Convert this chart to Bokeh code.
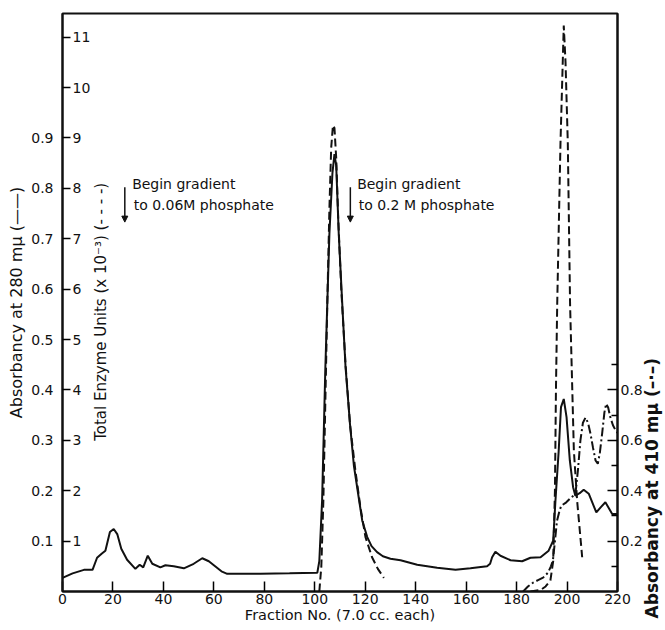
import math
from bokeh.plotting import figure
from bokeh.models import Range1d, LinearAxis, FixedTicker, Label, Arrow, NormalHead
from bokeh.core.properties import value
from bokeh.embed import file_html
from bokeh.resources import INLINE

NaN = float("nan")

# ---- data ----
fraction_280 = [0, 4, 8.5, 11.9, 13.7, 15.5, 17.0, 18.8, 20.3, 21.7, 23.3, 25.6, 28.9,
                30.6, 32.0, 33.8, 35.6, 38.8, 40.8, 44.1, 48.1, 52.0, 55.4, 58.0, 60.0,
                63.0, 65.3, 78.5, 90.0, 101.0, 101.8, 102.9, 104.2, 105.8, 107.0, 107.8,
                108.5, 109.5, 111.0, 112.2, 114.0, 115.5, 117.4, 118.8, 120.8, 122.5,
                124.7, 127.0, 130.0, 134.0, 140.6, 148.5, 155.8, 161.7, 168.3, 169.5,
                170.3, 171.6, 173.6, 177.6, 182.2, 185.5, 189.5, 192.7, 194.5, 195.4,
                196.7, 197.6, 198.7, 199.8, 201.1, 202.4, 203.3, 205.0, 206.6, 208.6,
                211.6, 213.5, 215.2, 217.9, 220.0]
absorb_280 = [0.027, 0.036, 0.043, 0.043, 0.067, 0.075, 0.081, 0.118, 0.124, 0.114, 0.085,
              0.063, 0.045, 0.053, 0.048, 0.071, 0.055, 0.048, 0.052, 0.050, 0.046, 0.055,
              0.066, 0.060, 0.052, 0.040, 0.035, 0.035, 0.036, 0.037, 0.060, 0.180, 0.445,
              0.710, 0.830, 0.868, 0.845, 0.710, 0.560, 0.445, 0.330, 0.250, 0.187, 0.141,
              0.108, 0.090, 0.078, 0.070, 0.065, 0.062, 0.053, 0.047, 0.043, 0.046, 0.050,
              0.055, 0.068, 0.079, 0.071, 0.062, 0.060, 0.067, 0.068, 0.081, 0.101, 0.180,
              0.280, 0.366, 0.382, 0.346, 0.260, 0.207, 0.190, 0.195, 0.202, 0.194, 0.157,
              0.168, 0.177, 0.154, 0.154]

fraction_enz = [101.8, 102.6, 103.4, 104.2, 105.0, 105.8, 106.5, 107.2, 107.8, 108.5,
                109.3, 110.5, 112.2, 114.0, 116.1, 118.1, 120.1, 122.7, 125.0, 127.4,
                NaN,
                185.5, 189.5, 191.5, 193.4, 194.5, 195.2, 195.6, 196.1, 197.4, 198.7,
                199.4, 200.3, 201.2, 202.7, 204.0, 206.0]
enzyme_units = [0.0, 0.5, 1.8, 3.8, 5.8, 7.6, 8.8, 9.25, 9.2, 8.6,
                7.4, 6.0, 4.5, 3.3, 2.4, 1.67, 1.08, 0.68, 0.45, 0.27,
                NaN,
                0.0, 0.03, 0.10, 0.22, 0.60, 2.0, 4.0, 5.7, 8.9, 11.23,
                10.5, 8.9, 5.7, 2.8, 1.8, 0.68]

fraction_410 = [182.6, 184.5, 186.5, 188.5, 190.5, 192.5, 193.6, 194.4, 195.2, 196.0,
                197.0, 197.7, 199.7, 201.7, 203.3, 204.3, 205.3, 206.3, 207.3, 208.3,
                209.3, 210.3, 211.3, 212.2, 213.0, 213.9, 214.8, 215.5, 216.3, 217.2,
                218.2, 219.2, 220.0]
absorb_410 = [0.0, 0.02, 0.035, 0.045, 0.055, 0.075, 0.10, 0.123, 0.20, 0.28,
              0.32, 0.34, 0.354, 0.374, 0.385, 0.48, 0.60, 0.67, 0.69, 0.67,
              0.626, 0.57, 0.52, 0.507, 0.55, 0.626, 0.71, 0.745, 0.73, 0.69,
              0.66, 0.64, 0.63]

x_ticks = [0, 20, 40, 60, 80, 100, 120, 140, 160, 180, 200, 220]
abs280_labels = ["0.1", "0.2", "0.3", "0.4", "0.5", "0.6", "0.7", "0.8", "0.9"]
enzyme_ticks = [1, 2, 3, 4, 5, 6, 7, 8, 9, 10, 11]
a410_major = [0.2, 0.4, 0.6, 0.8]
a410_minor = [0.1, 0.3, 0.5, 0.7, 0.9]

FONT = "DejaVu Sans"
BLACK = "#111111"

p = figure(width=665, height=630, output_backend="svg", toolbar_location=None,
           x_range=Range1d(0, 220), y_range=Range1d(0, 1.147),
           min_border_left=62, min_border_right=48, min_border_top=13, min_border_bottom=39)
p.extra_y_ranges = {"enz": Range1d(0, 11.47), "a410": Range1d(0, 2.294)}
p.xgrid.visible = False
p.ygrid.visible = False
p.outline_line_color = BLACK
p.outline_line_width = 2

# x axis
xa = p.xaxis[0]
xa.ticker = FixedTicker(ticks=x_ticks)
xa.major_tick_in = 10
xa.major_tick_out = 0
xa.minor_tick_line_color = None
xa.axis_line_color = BLACK
xa.axis_line_width = 2
xa.major_tick_line_width = 1.5
xa.major_label_standoff = 2
xa.major_label_text_font = FONT
xa.major_label_text_font_size = "14px"
xa.major_label_text_color = BLACK
xa.axis_label = "Fraction No. (7.0 cc. each)"
xa.axis_label_standoff = 0
xa.axis_label_text_font = FONT
xa.axis_label_text_font_size = "14.5px"
xa.axis_label_text_font_style = "normal"
xa.axis_label_text_color = BLACK

# left axis (absorbancy 280, ticks at every enzyme unit)
ya = p.yaxis[0]
left_ticks = [round(v / 10, 1) for v in enzyme_ticks]
ya.ticker = FixedTicker(ticks=left_ticks)
overrides = {}
for i, t in enumerate(left_ticks):
    overrides[t] = abs280_labels[i] if i < len(abs280_labels) else ""
ya.major_label_overrides = overrides
ya.major_tick_in = 8
ya.major_tick_out = 0
ya.minor_tick_line_color = None
ya.axis_line_color = BLACK
ya.axis_line_width = 2
ya.major_tick_line_width = 1.5
ya.major_label_standoff = 9
ya.major_label_text_font = FONT
ya.major_label_text_font_size = "14px"
ya.major_label_text_color = BLACK
ya.axis_label = "Absorbancy at 280 mμ (——)"
ya.axis_label_standoff = 2
ya.axis_label_text_font = FONT
ya.axis_label_text_font_size = "16px"
ya.axis_label_text_font_style = "normal"
ya.axis_label_text_color = BLACK

# right axis (absorbancy 410)
ra = LinearAxis(y_range_name="a410",
                ticker=FixedTicker(ticks=a410_major, minor_ticks=a410_minor))
ra.major_tick_in = 10
ra.major_tick_out = 0
ra.minor_tick_in = 6
ra.minor_tick_out = 0
ra.axis_line_color = BLACK
ra.axis_line_width = 2
ra.major_tick_line_width = 1.5
ra.minor_tick_line_width = 1.5
ra.major_label_standoff = 3
ra.major_label_text_font = FONT
ra.major_label_text_font_size = "14px"
ra.major_label_text_color = BLACK
p.add_layout(ra, "right")

# right-hand title, placed in the right panel so that it is not clipped
p.add_layout(Label(x=233.6, y=0.205, text="Absorbancy at 410 mμ (–·–)", angle=math.pi / 2,
                   text_align="center", text_baseline="middle",
                   text_font=FONT, text_font_size="17px", text_font_style="bold",
                   text_color=BLACK), "right")

# enzyme tick labels drawn inside the frame
p.text(x=[0] * len(enzyme_ticks), y=enzyme_ticks, text=[str(v) for v in enzyme_ticks],
       y_range_name="enz", x_offset=10, text_align="left", text_baseline="middle",
       text_font=value(FONT), text_font_size="14px", text_color=BLACK)

# series
p.line(fraction_280, absorb_280, line_color=BLACK, line_width=2)
p.line(fraction_enz, enzyme_units, y_range_name="enz", line_color=BLACK,
       line_width=2, line_dash="8 4")
p.line(fraction_410, absorb_410, y_range_name="a410", line_color=BLACK,
       line_width=2, line_dash="9 3 2 3")

# inner title
p.add_layout(Label(x=15.1, y=0.555, text="Total Enzyme Units (x 10⁻³) (- - - -)",
                   angle=math.pi / 2, text_align="center", text_baseline="middle",
                   text_font=FONT, text_font_size="15px", text_color=BLACK))

# gradient annotations
for ax, tx, l1, l2 in [(24.7, 27.6, "Begin gradient", "to 0.06M phosphate"),
                       (114.1, 116.8, "Begin gradient", "to 0.2 M phosphate")]:
    p.add_layout(Arrow(x_start=ax, y_start=0.802, x_end=ax, y_end=0.733,
                       line_color=BLACK, line_width=1.5,
                       end=NormalHead(size=6, fill_color=BLACK, line_color=BLACK)))
    p.add_layout(Label(x=tx, y=0.809, text=l1, text_baseline="middle",
                       text_font=FONT, text_font_size="14px", text_color=BLACK))
    p.add_layout(Label(x=tx + 0.6, y=0.766, text=l2, text_baseline="middle",
                       text_font=FONT, text_font_size="14px", text_color=BLACK))

open("out.html", "w").write(file_html(p, INLINE))
